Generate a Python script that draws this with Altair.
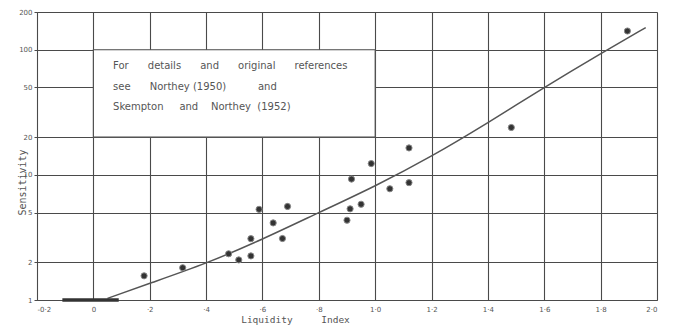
import altair as alt
import pandas as pd

# ---- data ----
pt_x = [0.18, 0.317, 0.48, 0.516, 0.559, 0.559, 0.588, 0.638, 0.671, 0.689,
        0.90, 0.911, 0.916, 0.95, 0.986, 1.052, 1.12, 1.12, 1.483, 1.895]
pt_y = [1.56, 1.81, 2.34, 2.09, 2.25, 3.09, 5.3, 4.13, 3.10, 5.59,
        4.34, 5.35, 9.25, 5.82, 12.3, 7.74, 8.66, 16.4, 23.9, 141]

curve_x = [0.05, 0.2, 0.4, 0.6, 0.8, 1.0, 1.2, 1.4, 1.6, 1.8, 1.96]
curve_y = [1.03, 1.36, 1.95, 3.05, 5.0, 8.1, 14.0, 26.0, 50, 93, 150]

bar_x = [-0.11, 0.09]
bar_y = [1, 1]

box_x = [0.0, 1.0]
box_y = [20, 100]

NB = "\u00a0"
note_words = [["For", "details", "and", "original", "references"],
              ["see", "Northey", "(1950)", "and"],
              ["Skempton", "and", "Northey", "(1952)"]]
note_gaps = [[6, 6, 6, 6], [6, 1, 10], [5, 4, 2]]
note_lines = []
for words, gaps in zip(note_words, note_gaps):
    s = words[0]
    for w, g in zip(words[1:], gaps):
        s += NB * g + w
    note_lines.append(s)
note_x = [0.07, 0.07, 0.07]
note_y = [73.4, 50.0, 34.8]

x_ticks = [-0.2, 0.0, 0.2, 0.4, 0.6, 0.8, 1.0, 1.2, 1.4, 1.6, 1.8, 2.0]
x_tick_labels = ["-0·2", "0", "·2", "·4", "·6", "·8", "1·0", "1·2", "1·4", "1·6", "1·8", "2·0"]
y_ticks = [1, 2, 5, 10, 20, 50, 100, 200]

x_title = "Liquidity" + NB * 5 + "Index"
y_title = "Sensitivity"

ink = "#4a4a4a"
txt = "#555"
FONT = "DejaVu Sans"
MONO = "DejaVu Sans Mono"

label_expr = "[" + ",".join("'%s'" % s for s in x_tick_labels) + "][round((datum.value + 0.2) / 0.2)]"

xscale = alt.Scale(domain=[-0.2, 2.0], nice=False, zero=False)
yscale = alt.Scale(type="log", domain=[1, 200], nice=False)

xaxis = alt.Axis(values=x_ticks, labelExpr=label_expr, grid=True, gridColor=ink,
                 gridOpacity=1, gridWidth=1.1, domain=True, domainColor=ink,
                 tickSize=0, labelPadding=5, labelFontSize=7, labelColor=txt,
                 labelFont=FONT, title=x_title, titleFont=MONO,
                 titleFontSize=9.5, titleFontWeight="normal", titleColor=txt,
                 titleX=258, titleY=19, titleBaseline="middle", titleAnchor="middle")
yaxis = alt.Axis(values=y_ticks, format="d", grid=True, gridColor=ink, gridOpacity=1,
                 gridWidth=1.1, domain=True, domainColor=ink, tickSize=3, tickColor=ink,
                 labelPadding=2, labelFontSize=7, labelColor=txt, labelFont=FONT,
                 title=y_title, titleFont=MONO, titleFontSize=10,
                 titleFontWeight="normal", titleColor=txt, titleX=-15, titleY=170,
                 titleAngle=-90, titleBaseline="middle", titleAnchor="middle")

base_df = pd.DataFrame({"x": [box_x[0]], "x2": [box_x[1]], "y": [box_y[0]], "y2": [box_y[1]]})
box = alt.Chart(base_df).mark_rect(fill="white", stroke=ink, strokeWidth=1.1).encode(
    x=alt.X("x:Q", scale=xscale, axis=xaxis),
    x2="x2:Q",
    y=alt.Y("y:Q", scale=yscale, axis=yaxis),
    y2="y2:Q",
)

note_df = pd.DataFrame({"x": note_x, "y": note_y, "t": note_lines})
note = alt.Chart(note_df).mark_text(align="left", baseline="middle", font=FONT,
                                     fontSize=10, color=txt).encode(
    x=alt.X("x:Q", scale=xscale), y=alt.Y("y:Q", scale=yscale), text="t:N")

bar_df = pd.DataFrame({"x": [bar_x[0]], "x2": [bar_x[1]], "y": [bar_y[0]]})
bar = alt.Chart(bar_df).mark_rule(color="#333", strokeWidth=3.5).encode(
    x=alt.X("x:Q", scale=xscale), x2="x2:Q", y=alt.Y("y:Q", scale=yscale))

curve_df = pd.DataFrame({"x": curve_x, "y": curve_y})
curve = alt.Chart(curve_df).mark_line(color="#555", strokeWidth=1.5,
                                      interpolate="basis").encode(
    x=alt.X("x:Q", scale=xscale), y=alt.Y("y:Q", scale=yscale))

pts_df = pd.DataFrame({"x": pt_x, "y": pt_y})
pts = alt.Chart(pts_df).mark_point(filled=True, size=38, color="#333", opacity=1,
                                    stroke="#888", strokeWidth=1).encode(
    x=alt.X("x:Q", scale=xscale), y=alt.Y("y:Q", scale=yscale))

chart = alt.layer(box, note, curve, bar, pts).properties(
    width=620, height=288,
    autosize=alt.AutoSizeParams(type="none"),
    padding={"left": 29, "top": 4, "right": 14, "bottom": 26},
).configure_view(stroke=ink, strokeWidth=1.2).configure(background="white")

chart.save("out.html", embed_options={"renderer": "svg", "actions": False})
